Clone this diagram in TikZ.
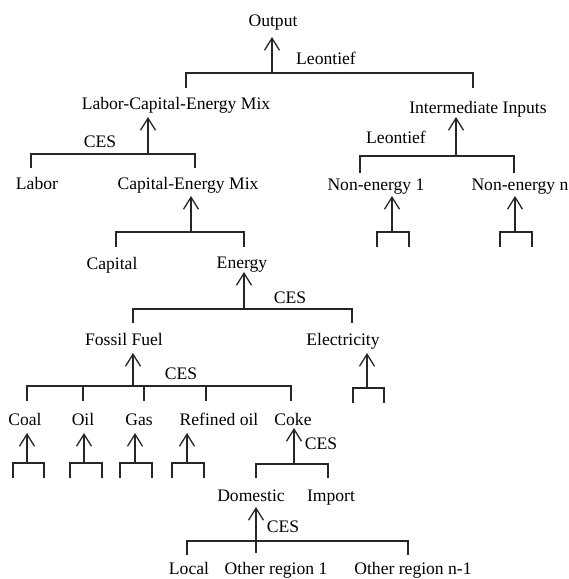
\documentclass[tikz,border=0pt]{standalone}
\usepackage{fontspec}
\setmainfont{Liberation Serif}
\usetikzlibrary{arrows.meta}
\begin{document}
\begin{tikzpicture}[x=1pt,y=-1pt,
  lbl/.style={anchor=base,inner sep=0pt,font=\fontsize{17.6}{20}\selectfont},
  ln/.style={line width=1.3pt,black!85,line cap=rect},
  up/.style={ln,line cap=butt,-{Straight Barb[length=12pt,width=15pt,line width=1.3pt]}}]
\useasboundingbox (0,0) rectangle (569,579);
% labels
\node[lbl] (out) at (273,26) {Output};
\node[lbl] (leo1) at (326,64) {Leontief};
\node[lbl] (lce) at (176,109) {Labor-Capital-Energy Mix};
\node[lbl] (ii) at (478,113) {Intermediate Inputs};
\node[lbl] (ces1) at (100,147) {CES};
\node[lbl] (leo2) at (396,143) {Leontief};
\node[lbl] (labor) at (37,189) {Labor};
\node[lbl] (cem) at (188,189) {Capital-Energy Mix};
\node[lbl] (ne1) at (376,190) {Non-energy 1};
\node[lbl] (nen) at (520,190) {Non-energy n};
\node[lbl] (cap) at (112,269) {Capital};
\node[lbl] (en) at (242,268) {Energy};
\node[lbl] (ces2) at (290,303) {CES};
\node[lbl] (ff) at (124,345) {Fossil Fuel};
\node[lbl] (el) at (343,345) {Electricity};
\node[lbl] (ces3) at (181,379) {CES};
\node[lbl] (coal) at (25,425) {Coal};
\node[lbl] (oil) at (83,425) {Oil};
\node[lbl] (gas) at (139,425) {Gas};
\node[lbl] (ro) at (219,425) {Refined oil};
\node[lbl] (coke) at (293,425) {Coke};
\node[lbl] (ces4) at (321,449) {CES};
\node[lbl] (dom) at (251,501) {Domestic};
\node[lbl] (imp) at (331,501) {Import};
\node[lbl] (ces5) at (283,532) {CES};
\node[lbl] (loc) at (189,574.5) {Local};
\node[lbl] (or1) at (276,574.5) {Other region 1};
\node[lbl] (orn) at (413,574.5) {Other region n-1};
% arrow tips and junctions
\coordinate (tOut) at (272,37);  \coordinate (jOut) at (272,73);
\coordinate (tLce) at (148,117); \coordinate (jLce) at (148,154);
\coordinate (tIi)  at (456,117); \coordinate (jIi)  at (456,156);
\coordinate (tCem) at (191,196); \coordinate (jCem) at (191,232);
\coordinate (tNe1) at (392,196); \coordinate (jNe1) at (392,232);
\coordinate (tNen) at (515,196); \coordinate (jNen) at (515,232);
\coordinate (tEn)  at (244,272); \coordinate (jEn)  at (244,309);
\coordinate (tFf)  at (133,353); \coordinate (jFf)  at (133,386);
\coordinate (tEl)  at (367,353); \coordinate (jEl)  at (367,388);
\coordinate (tCoal) at (27,433); \coordinate (jCoal) at (27,463);
\coordinate (tOil) at (84,433);  \coordinate (jOil) at (84,463);
\coordinate (tGas) at (135,433); \coordinate (jGas) at (135,463);
\coordinate (tRo)  at (187,433); \coordinate (jRo)  at (187,463);
\coordinate (tCoke) at (294,428); \coordinate (jCoke) at (294,464);
\coordinate (tDom) at (256,507); \coordinate (jDom) at (256,553);
% arrows
\foreach \n in {Out,Lce,Ii,Cem,Ne1,Nen,En,Ff,El,Coal,Oil,Gas,Ro,Coke,Dom}
  \draw[up] (j\n) -- (t\n);
% brackets
\draw[ln] (186,87) -- (186,73) -- (473,73) -- (473,87);
\draw[ln] (31,167) -- (31,154) -- (195,154) -- (195,167);
\draw[ln,line width=1.7pt] (360,172) -- (360,156) -- (514,156) -- (514,172);
\draw[ln] (116,246) -- (116,232) -- (244,232) -- (244,246);
\draw[ln] (377,246) -- (377,232) -- (409,232) -- (409,246);
\draw[ln] (500,246) -- (500,232) -- (532,232) -- (532,246);
\draw[ln] (133,322) -- (133,309) -- (352,309) -- (352,322);
\draw[ln] (27,386) -- (291,386);
\foreach \x in {27,83,144,206,291} \draw[ln] (\x,386) -- (\x,400);
\draw[ln] (353,402) -- (353,388) -- (384,388) -- (384,402);
\foreach \a/\b in {13/44,70/102,120/152,172/204}
  \draw[ln] (\a,477) -- (\a,463) -- (\b,463) -- (\b,477);
\draw[ln] (256,477) -- (256,464) -- (328,464) -- (328,477);
\draw[ln] (187,554) -- (187,541) -- (408,541) -- (408,554);
\end{tikzpicture}
\end{document}
